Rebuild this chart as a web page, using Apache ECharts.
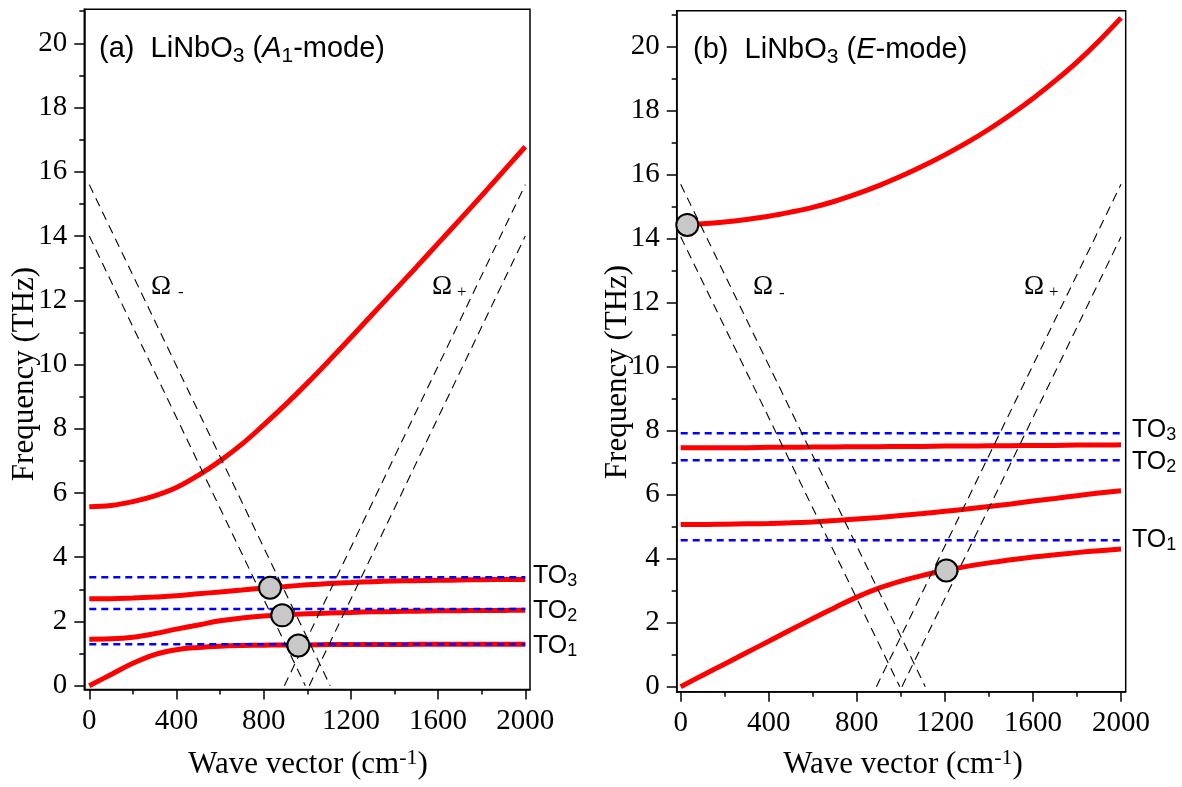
<!DOCTYPE html>
<html><head><meta charset="utf-8">
<script src="https://cdn.jsdelivr.net/npm/echarts@6/dist/echarts.min.js"></script>
<style>html,body{margin:0;padding:0;background:#fff}#c{width:1182px;height:787px}</style>
</head><body><div id="c"></div>
<script>
// ---------- data ----------
const waveVector = [0,100,200,300,400,500,600,700,800,900,1000,1100,1200,1300,1400,1500,1600,1700,1800,1900,2000];
// (a) A1-mode branches (THz)
const a1Lower  = [0,0.35,0.70,0.97,1.12,1.19,1.23,1.25,1.26,1.27,1.27,1.28,1.28,1.28,1.28,1.29,1.29,1.29,1.29,1.29,1.29];
const a1Second = [1.45,1.46,1.51,1.62,1.76,1.89,2.02,2.11,2.17,2.21,2.24,2.26,2.28,2.30,2.31,2.32,2.33,2.335,2.34,2.345,2.35];
const a1Third  = [2.71,2.71,2.73,2.76,2.80,2.86,2.92,2.98,3.04,3.09,3.14,3.18,3.21,3.24,3.26,3.27,3.28,3.29,3.30,3.305,3.31];
const a1Upper  = [5.57,5.61,5.73,5.91,6.17,6.55,7.00,7.52,8.12,8.75,9.42,10.12,10.84,11.57,12.30,13.03,13.77,14.51,15.26,16.02,16.78];
const a1TO = [1.29, 2.39, 3.38];
const a1Circles = [[829,3.05],[885,2.19],[959,1.25]];
// (b) E-mode branches (THz)
const eLower  = [0,0.36,0.71,1.07,1.42,1.78,2.13,2.47,2.80,3.08,3.30,3.48,3.63,3.76,3.87,3.97,4.05,4.12,4.19,4.25,4.30];
const eSecond = [5.07,5.07,5.08,5.09,5.10,5.12,5.15,5.19,5.24,5.29,5.35,5.41,5.48,5.55,5.63,5.71,5.80,5.88,5.97,6.05,6.12];
const eThird  = [7.47,7.47,7.47,7.47,7.48,7.48,7.49,7.49,7.50,7.50,7.51,7.51,7.52,7.52,7.53,7.53,7.54,7.54,7.55,7.55,7.56];
const eUpper  = [14.45,14.47,14.52,14.60,14.70,14.83,14.98,15.17,15.40,15.66,15.95,16.27,16.62,17.00,17.42,17.88,18.38,18.93,19.52,20.18,20.90];
const eTO = [4.58, 7.08, 7.92];
const eCircles = [[30,14.43],[1207,3.63]];
// Omega lines (dashed black) : [start, end] points
const a1OmMinusOuter = [[0,15.6],[1105,0]];
const a1OmMinusInner = [[0,14.0],[991,0]];
const a1OmPlusOuter  = [[895,0],[2000,15.6]];
const a1OmPlusInner  = [[1009,0],[2000,14.0]];
const eOmMinusOuter = [[0,15.7],[1111,0]];
const eOmMinusInner = [[0,14.06],[995,0]];
const eOmPlusOuter  = [[889,0],[2000,15.7]];
const eOmPlusInner  = [[1005,0],[2000,14.06]];
// ticks
const xRange = [0, 2000], xStep = 400;
const yRange = [0, 20], yStep = 2;
const xMinor = [200,600,1000,1400,1800];
const yMinor = [1,3,5,7,9,11,13,15,17,19,21];

// ---------- build ----------
const GS = 'Liberation Serif';
const SANS = 'Liberation Sans';
const pair = ys => waveVector.map((x,i)=>[x, ys[i]]);
const plain = v => String(v);
const BLK = {color:'#000', width:1.5};

// frame grids (0,1): frame lines + minor ticks; inner grids (2,3): data + major ticks/labels
function frameX(g, min, max){
  return {type:'value', gridIndex:g, min, max, position:'bottom', splitLine:{show:false},
    axisLine:{show:true, onZero:false, lineStyle:BLK},
    axisTick:{show:true, length:5, customValues:xMinor, lineStyle:BLK}, axisLabel:{show:false}};
}
function frameY(g, min, max){
  return {type:'value', gridIndex:g, min, max, position:'left', splitLine:{show:false},
    axisLine:{show:true, onZero:false, lineStyle:BLK},
    axisTick:{show:true, length:5, customValues:yMinor, lineStyle:BLK}, axisLabel:{show:false}};
}
function innerX(g, offset){
  return {type:'value', gridIndex:g, min:xRange[0], max:xRange[1], interval:xStep, position:'bottom', offset,
    splitLine:{show:false}, axisLine:{show:false, onZero:false},
    axisTick:{show:true, length:10, lineStyle:BLK},
    axisLabel:{show:true, formatter:plain, margin:17, color:'#000', fontSize:29, fontFamily:GS}};
}
function innerY(g, offset){
  return {type:'value', gridIndex:g, min:yRange[0], max:yRange[1], interval:yStep, position:'left', offset,
    splitLine:{show:false}, axisLine:{show:false, onZero:false},
    axisTick:{show:true, length:10, lineStyle:BLK},
    axisLabel:{show:true, formatter:plain, margin:17, color:'#000', fontSize:29, fontFamily:GS}};
}

const series = [];
function red(xi, ys){
  series.push({type:'line', xAxisIndex:xi, yAxisIndex:xi, data:pair(ys), symbol:'none', smooth:0.4, clip:false,
    lineStyle:{color:'#ff0000', width:5}, z:2, silent:true});
}
function blue(xi, v){
  series.push({type:'line', xAxisIndex:xi, yAxisIndex:xi, data:[[0,v],[2000,v]], symbol:'none', clip:false,
    lineStyle:{color:'#0000ff', width:2.5, type:[7,5]}, z:3, silent:true});
}
function dash(xi, pts){
  series.push({type:'line', xAxisIndex:xi, yAxisIndex:xi, data:pts, symbol:'none', clip:false,
    lineStyle:{color:'#000', width:1.1, type:[9,6]}, z:3, silent:true});
}
function circles(xi, pts){
  series.push({type:'scatter', xAxisIndex:xi, yAxisIndex:xi, data:pts, symbol:'circle', symbolSize:22, clip:false,
    itemStyle:{color:'#c8c8c8', borderColor:'#000', borderWidth:2, opacity:1}, z:6, silent:true});
}
[a1Lower,a1Second,a1Third,a1Upper].forEach(s=>red(2,s));
a1TO.forEach(v=>blue(2,v));
[a1OmMinusOuter,a1OmMinusInner,a1OmPlusOuter,a1OmPlusInner].forEach(p=>dash(2,p));
circles(2,a1Circles);
[eLower,eSecond,eThird,eUpper].forEach(s=>red(3,s));
eTO.forEach(v=>blue(3,v));
[eOmMinusOuter,eOmMinusInner,eOmPlusOuter,eOmPlusInner].forEach(p=>dash(3,p));
circles(3,eCircles);

const titleRich = {
  sub:{fontSize:21, lineHeight:16, verticalAlign:'bottom', fontFamily:SANS, fill:'#000'},
  it:{fontSize:29, lineHeight:35, fontStyle:'italic', fontFamily:SANS, fill:'#000'}
};
const toRich = {sub:{fontSize:18, lineHeight:13, verticalAlign:'bottom', fontFamily:SANS, fill:'#000'}};
const xNameRich = {sup:{fontSize:22, lineHeight:12, verticalAlign:'top', fontFamily:GS, fill:'#000'}};

function txt(x, y, text, opts){
  return {type:'text', x, y, silent:true, z:10, style:Object.assign({text, fill:'#000', align:'left', verticalAlign:'middle'}, opts)};
}
const graphic = [
  txt(99, 49, '(a)  LiNbO{sub|3} ({it|A}{sub|1}-mode)', {fontSize:29, lineHeight:35, fontFamily:SANS, rich:titleRich}),
  txt(693, 50, '(b)  LiNbO{sub|3} ({it|E}-mode)', {fontSize:29, lineHeight:35, fontFamily:SANS, rich:titleRich}),
  txt(533, 576, 'TO{sub|3}', {fontSize:25, lineHeight:28, fontFamily:SANS, rich:toRich}),
  txt(533, 611, 'TO{sub|2}', {fontSize:25, lineHeight:28, fontFamily:SANS, rich:toRich}),
  txt(533, 646, 'TO{sub|1}', {fontSize:25, lineHeight:28, fontFamily:SANS, rich:toRich}),
  txt(1132, 430, 'TO{sub|3}', {fontSize:25, lineHeight:28, fontFamily:SANS, rich:toRich}),
  txt(1132, 462, 'TO{sub|2}', {fontSize:25, lineHeight:28, fontFamily:SANS, rich:toRich}),
  txt(1132, 540, 'TO{sub|1}', {fontSize:25, lineHeight:28, fontFamily:SANS, rich:toRich}),
  txt(151, 286.5, 'Ω', {fontSize:27, fontFamily:GS}),
  txt(178, 293, '-', {fontSize:17, fontFamily:GS}),
  txt(432, 286.5, 'Ω', {fontSize:27, fontFamily:GS}),
  txt(457, 293, '+', {fontSize:17, fontFamily:GS}),
  txt(753, 287, 'Ω', {fontSize:27, fontFamily:GS}),
  txt(779, 294, '-', {fontSize:17, fontFamily:GS}),
  txt(1024, 287, 'Ω', {fontSize:27, fontFamily:GS}),
  txt(1049, 293, '+', {fontSize:17, fontFamily:GS}),
  txt(308, 765, 'Wave vector (cm{sup|-1})', {align:'center', fontSize:31, lineHeight:36, fontFamily:GS, rich:xNameRich}),
  txt(903, 765, 'Wave vector (cm{sup|-1})', {align:'center', fontSize:31, lineHeight:36, fontFamily:GS, rich:xNameRich}),
  Object.assign(txt(25, 374, 'Frequency (THz)', {align:'center', fontSize:31, fontFamily:GS}), {rotation:Math.PI/2}),
  Object.assign(txt(618, 372, 'Frequency (THz)', {align:'center', fontSize:31, fontFamily:GS}), {rotation:Math.PI/2})
];

const chart = echarts.init(document.getElementById('c'), null, {renderer:'canvas'});
chart.setOption({
  animation:false,
  backgroundColor:'#fff',
  grid:[
    {left:84.3, top:9.3, width:445.7, height:680.2, show:true, borderColor:'#000', borderWidth:1.5, containLabel:false},
    {left:676.7, top:10.7, width:449, height:681, show:true, borderColor:'#000', borderWidth:1.5, containLabel:false},
    {left:89.3, top:43.3, width:436, height:642.4, show:false, containLabel:false},
    {left:680.7, top:46.7, width:440.3, height:640, show:false, containLabel:false}
  ],
  xAxis:[frameX(0,-23,2022), frameX(1,-18,2021), innerX(2,3.8), innerX(3,5)],
  yAxis:[frameY(0,-0.12,21.06), frameY(1,-0.156,21.125), innerY(2,5), innerY(3,4)],
  series,
  graphic
});
</script></body></html>
